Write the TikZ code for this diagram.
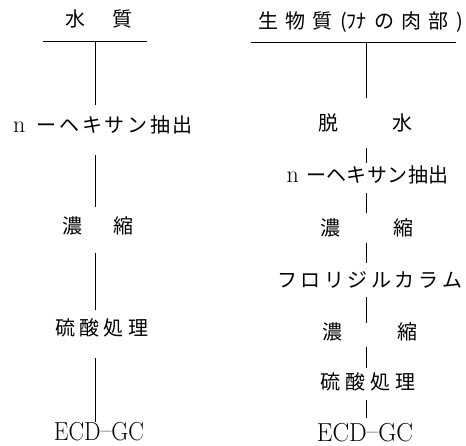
\documentclass[tikz,border=0pt]{standalone}
\usepackage{graphicx}
\usepackage{fontspec}
\newfontfamily\jp{Noto Sans CJK JP}
\newcommand{\spreadtxt}[2]{\makebox[#1][s]{#2}}
\newcommand{\latn}{{\rmfamily\fontsize{24}{28}\selectfont n}}
\newcommand{\ecdgc}{ECD\raisebox{2pt}{--}GC}
\begin{document}
\begin{tikzpicture}[x=1pt,y=-1pt,
  lab/.style={inner sep=0pt, text height=16.5pt, text depth=1.5pt,
              font=\jp\fontsize{20}{24}\selectfont},
  latin/.style={inner sep=0pt, text height=17.8pt, text depth=0pt,
              font=\rmfamily\fontsize{26}{30}\selectfont},
  conn/.style={line width=1pt},
  bar/.style={line width=0.9pt}]
\useasboundingbox (0,0) rectangle (466,446);
% axes
\coordinate (axL) at (95,0);
\coordinate (axR) at (366,0);
% left column
\node[lab] (tL) at (98.5,19) {\spreadtxt{67pt}{水\hfill 質}};
\coordinate (bLa) at (43,41);
\coordinate (bLb) at (147,41);
\coordinate (bL) at (95,41);
\node[lab] (hL) at (103,125) {\spreadtxt{180pt}{\latn\hspace{9pt}\hfill ー\hfill ヘ\hfill キ\hfill サ\hfill ン\hfill 抽\hfill 出}};
\node[lab] (kL) at (97.5,226) {\spreadtxt{71pt}{濃\hfill 縮}};
\node[lab] (sL) at (101.5,328) {\spreadtxt{93pt}{硫\hfill 酸\hfill 処\hfill 理}};
\node[latin] (eL) at (99,432) {\scalebox{0.9}[1]{\ecdgc}};
% right column
\node[lab] (tR) at (360.5,21) {\spreadtxt{205pt}{生\hfill 物\hfill 質\hfill (ﾌﾅ\hfill の\hfill 肉\hfill 部\hfill )}};
\coordinate (bRa) at (251,42);
\coordinate (bRb) at (456,42);
\coordinate (bR) at (366,42);
\node[lab] (dR) at (365,123) {\spreadtxt{94pt}{脱\hfill 水}};
\node[lab] (hR) at (367.5,175) {\spreadtxt{162pt}{\latn\hspace{7pt}\hfill ー\hfill ヘ\hfill キ\hfill サ\hfill ン\hfill 抽\hfill 出}};
\node[lab] (kR1) at (366.5,228) {\spreadtxt{93pt}{濃\hfill 縮}};
\node[lab] (fR) at (369.5,280) {\spreadtxt{185pt}{フ\hfill ロ\hfill リ\hfill ジ\hfill ル\hfill カ\hfill ラ\hfill ム}};
\node[lab] (kR2) at (369.5,332) {\spreadtxt{95pt}{濃\hfill 縮}};
\node[lab] (sR) at (367.5,382) {\spreadtxt{95pt}{硫\hfill 酸\hfill 処\hfill 理}};
\node[latin] (eR) at (365,433) {\scalebox{0.96}[1]{\ecdgc}};
% bars
\draw[bar] (bLa) -- (bLb);
\draw[bar] (bRa) -- (bRb);
% left connectors
\draw[conn, shorten >=11pt] (bL) -- (hL.north -| axL);
\draw[conn, shorten <=21pt, shorten >=10pt] (hL.south -| axL) -- (kL.north -| axL);
\draw[conn, shorten <=18pt, shorten >=9pt] (kL.south -| axL) -- (sL.north -| axL);
\draw[conn, shorten <=21pt, shorten >=1pt] (sL.south -| axL) -- (eL.north -| axL);
% right connectors
\draw[conn, shorten >=16pt] (bR) -- (dR.north -| axR);
\draw[conn, shorten <=16pt, shorten >=3pt] (dR.south -| axR) -- (hR.north -| axR);
\draw[conn, shorten <=9pt, shorten >=6pt] (hR.south -| axR) -- (kR1.north -| axR);
\draw[conn, shorten <=6pt, shorten >=8pt] (kR1.south -| axR) -- (fR.north -| axR);
\draw[conn, shorten <=8pt, shorten >=0pt] (fR.south -| axR) -- (kR2.north -| axR);
\draw[conn, shorten <=6pt, shorten >=5pt] (kR2.south -| axR) -- (sR.north -| axR);
\draw[conn, shorten <=9pt, shorten >=6pt] (sR.south -| axR) -- (eR.north -| axR);
\end{tikzpicture}
\end{document}
